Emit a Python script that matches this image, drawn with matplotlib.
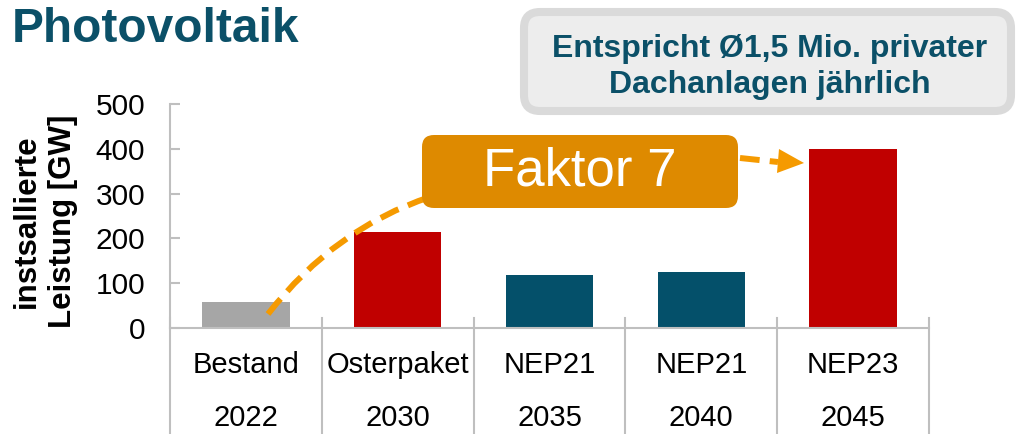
import matplotlib
matplotlib.use("Agg")
import matplotlib.pyplot as plt
import matplotlib.transforms as mtransforms
from matplotlib.patches import FancyBboxPatch, PathPatch, Polygon
from matplotlib.path import Path

plt.rcParams['font.family'] = ['Liberation Sans', 'DejaVu Sans']

# data
scenarios = ["Bestand", "Osterpaket", "NEP21", "NEP21", "NEP23"]
years = ["2022", "2030", "2035", "2040", "2045"]
capacity_gw = [58, 215, 118, 125, 400]
y_ticks = [0, 100, 200, 300, 400, 500]

# styles
bar_colors = ["#A6A6A6", "#C00000", "#04506A", "#04506A", "#C00000"]
teal = "#0B5068"
grid_grey = "#BFBFBF"
orange_line = "#F59A00"
orange_box = "#DE8A00"

W, H = 1020, 434
fig = plt.figure(figsize=(W / 100, H / 100), dpi=100)
ax = fig.add_axes([170 / W, 106 / H, 759 / W, 224 / H])

x = range(len(capacity_gw))
ax.bar(x, capacity_gw, width=0.575, color=bar_colors, zorder=2)
ax.set_xlim(-0.5, len(capacity_gw) - 0.5)
ax.set_ylim(0, 500)
ax.set_yticks(y_ticks)
ax.set_xticks([])
for s in ["top", "right"]:
    ax.spines[s].set_visible(False)
for s in ["left", "bottom"]:
    ax.spines[s].set_color(grid_grey)
    ax.spines[s].set_linewidth(1.5)
ax.tick_params(axis="y", direction="in", length=7, width=1.5, color=grid_grey,
               pad=18, labelsize=21.5)

# category table below the axis
trans = mtransforms.blended_transform_factory(ax.transData, ax.transAxes)
for i in range(len(capacity_gw) + 1):
    ax.plot([i - 0.5, i - 0.5], [0.045, -0.48], transform=trans, clip_on=False,
            color=grid_grey, lw=1.5)
for i, (sc, yr) in enumerate(zip(scenarios, years)):
    ax.text(i, -0.165, sc, transform=trans, ha="center", va="center", fontsize=21)
    ax.text(i, -0.40, yr, transform=trans, ha="center", va="center", fontsize=21)

fig.text(45 / W, 1 - 221 / H, "instsallierte\nLeistung [GW]", rotation=90,
         ha="center", va="center", fontsize=22.5, fontweight="bold", linespacing=1.25)
fig.text(12 / W, 1 - 42 / H, "Photovoltaik", ha="left", va="baseline",
         fontsize=34.5, fontweight="bold", color=teal)

# overlay in pixel coordinates for the annotations
ov = fig.add_axes([0, 0, 1, 1])
ov.set_xlim(0, W)
ov.set_ylim(H, 0)
ov.axis("off")
ov.patch.set_alpha(0)

curve = Path([(268, 314), (335, 228), (430, 197)],
             [Path.MOVETO, Path.CURVE3, Path.CURVE3])
ov.add_patch(PathPatch(curve, fill=False, ec=orange_line, lw=4.3,
                       linestyle=(0, (3.3, 1.7)), capstyle="butt"))
ov.plot([740, 778], [158, 162], color=orange_line, lw=4.3,
        linestyle=(0, (3.3, 1.7)), solid_capstyle="butt", dash_capstyle="butt")
ov.add_patch(Polygon([(779, 149), (804, 163), (777, 173)], closed=True,
                     fc=orange_line, ec="none"))

ov.add_patch(FancyBboxPatch((422, 135), 316, 73,
                            boxstyle="round,pad=0,rounding_size=12",
                            fc=orange_box, ec="none"))
ov.text(580, 172, "Faktor 7", ha="center", va="center", fontsize=38, color="white")

ov.add_patch(FancyBboxPatch((524, 12), 487, 99,
                            boxstyle="round,pad=0,rounding_size=16",
                            fc="#EDEDED", ec="#DADADA", lw=5.8))
ov.text(770, 67, "Entspricht Ø1,5 Mio. privater\nDachanlagen jährlich",
        ha="center", va="center", fontsize=23, fontweight="bold", color=teal,
        linespacing=1.25)

fig.savefig("out.png", dpi=100)
